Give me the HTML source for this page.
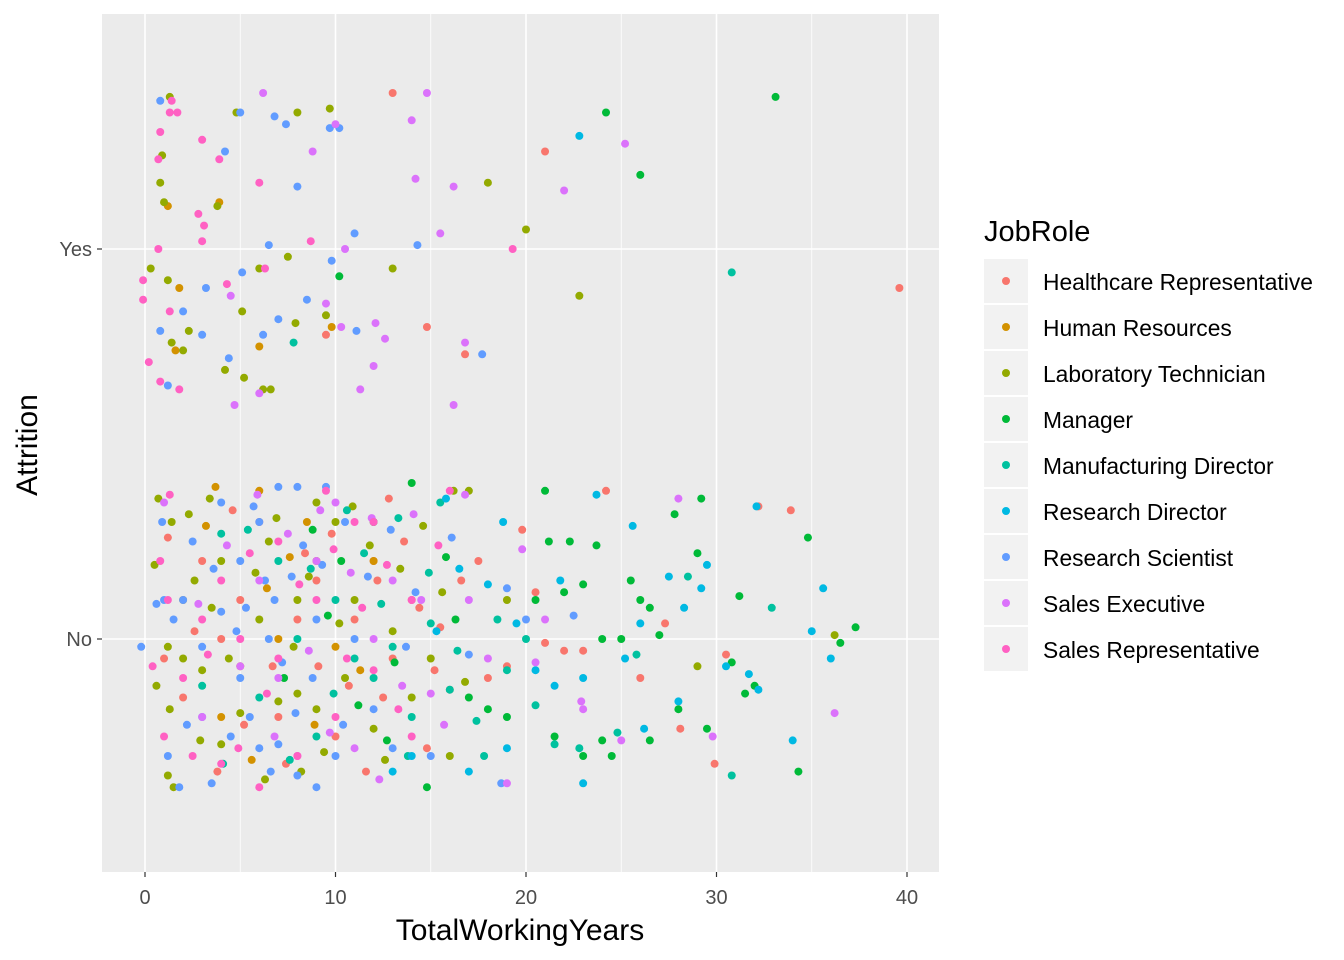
<!DOCTYPE html>
<html><head><meta charset="utf-8"><style>
body{margin:0;background:#fff;}
svg{display:block;font-family:"Liberation Sans",Arial,sans-serif;}
</style></head><body>
<svg id="chart" width="1344" height="960" viewBox="0 0 1344 960" xmlns="http://www.w3.org/2000/svg">
<rect x="102" y="14" width="837" height="858" fill="#EBEBEB"/>
<g id="grid"></g>
<g id="points"></g>
<g id="axes"></g>
<text x="520" y="940" font-size="30" text-anchor="middle" fill="#000">TotalWorkingYears</text>
<text transform="translate(37,445) rotate(-90)" font-size="30" text-anchor="middle" fill="#000">Attrition</text>
<g id="legend"></g>
</svg>
<script>
const roles=["Healthcare Representative","Human Resources","Laboratory Technician","Manager","Manufacturing Director","Research Director","Research Scientist","Sales Executive","Sales Representative"];
const colors=["#F8766D","#D39200","#93AA00","#00BA38","#00C19F","#00B9E3","#619CFF","#DB72FB","#FF61C3"];
const xTicks=[0,10,20,30,40];
const yCats=["No","Yes"];
// points per role: [TotalWorkingYears (jittered), Attrition position (No=1, Yes=2, jittered)]
const healthcare=[[13,2.4],[21,2.25],[14.8,1.8],[16.8,1.73],[39.6,1.9],[9.5,1.78],[24.2,1.38],[32.2,1.34],[33.9,1.33],[19.8,1.28],[17.5,1.2],[20.5,1.12],[14,1.1],[12,1.2],[28.1,0.77],[29.9,0.68],[30.5,0.96],[27.3,1.04],[22,0.97],[21,0.99],[16,0.87],[18,0.9],[14.8,0.72],[10,0.75],[8,1.05],[6,1.3],[4,1.0],[2,0.85],[1,0.95],[3,1.2],[11,1.05],[13,0.95],[9,1.15],[7,0.8],[5,1.1],[15.5,1.03],[19,0.93],[23,0.97],[12.5,0.85],[26,0.9],[3.8,0.66],[5.2,0.78],[6.7,0.93],[8.4,1.22],[9.8,1.27],[10.7,0.88],[12.2,1.15],[13.6,1.25],[14.4,1.08],[15.2,0.92],[16.6,1.15],[2.6,1.02],[1.2,1.26],[7.4,0.68],[11.6,0.66],[12.8,1.36],[9.1,0.93],[4.6,1.33]];
const humanRes=[[1.2,2.11],[1.8,1.9],[3.9,2.12],[9.8,1.8],[6,1.75],[1.6,1.74],[3.7,1.39],[6,1.38],[9,1.2],[8.5,1.3],[5,0.93],[10,0.98],[7,1.0],[2,1.1],[4,0.8],[12,1.2],[6.4,1.13],[8.9,0.78],[5.6,0.69],[11.3,0.92],[3.2,1.29],[7.6,1.21]];
const labTech=[[1.3,2.39],[0.9,2.24],[0.8,2.17],[1,2.12],[4.8,2.35],[8,2.35],[9.7,2.36],[3.8,2.11],[0.3,1.95],[1.2,1.92],[1.4,1.76],[2,1.74],[4.2,1.69],[5.2,1.67],[6.2,1.64],[6.6,1.64],[7.5,1.98],[13,1.95],[18,2.17],[20,2.05],[22.8,1.88],[7.9,1.81],[5.1,1.84],[9.5,1.83],[6,1.95],[2.3,1.79],[0.7,1.36],[1.4,1.3],[2.3,1.32],[0.5,1.19],[4,1.2],[6.5,1.25],[9,1.35],[10,1.3],[16.2,1.38],[17,1.38],[1.2,0.98],[2,0.95],[3,0.92],[0.6,0.88],[1.3,0.82],[1.5,0.62],[1.2,0.65],[2.9,0.74],[4,0.73],[5,0.81],[7,0.84],[8,0.86],[9,0.82],[12,0.77],[14,0.85],[16,0.7],[29,0.93],[36.2,1.01],[6,1.05],[8,1.1],[11,1.1],[13,1.02],[3.5,1.08],[10.5,0.9],[15,0.95],[19,1.1],[5.8,1.17],[6.9,1.31],[7.8,0.98],[8.6,1.16],[9.4,0.71],[10.2,1.04],[11.8,1.24],[12.6,0.69],[13.4,1.18],[14.6,1.29],[4.4,0.95],[2.6,1.15],[6.3,0.64],[8.2,0.66],[10.9,1.34],[15.6,1.12],[16.8,0.89],[3.4,1.36]];
const manager=[[33.1,2.39],[24.2,2.35],[26,2.19],[10.2,1.93],[21,1.38],[29.2,1.36],[34.8,1.26],[21.2,1.25],[22.3,1.25],[23.7,1.24],[25.5,1.15],[29,1.22],[31.2,1.11],[37.3,1.03],[26,1.1],[26.5,1.08],[27,1.01],[20.5,1.1],[22,1.12],[23,1.14],[30.8,0.94],[31.5,0.86],[32,0.88],[28,0.82],[29.5,0.77],[26.5,0.74],[24,0.74],[21.5,0.75],[23,0.7],[24.5,0.7],[34.3,0.66],[36.5,0.99],[19,0.8],[18,0.82],[14.8,0.62],[17,0.85],[25,1.0],[27.8,1.32],[24,1.0],[12,1.3],[10.3,1.2],[14,1.4],[9.6,1.06],[11.2,0.83],[13.1,0.94],[15.8,1.21],[7.3,0.9],[8.8,1.28],[12.7,0.74],[16.3,1.05]];
const mfgDirector=[[30.8,1.94],[7.8,1.76],[13.3,1.31],[28.5,1.16],[30.8,0.65],[32.9,1.08],[22.8,0.72],[21.5,0.73],[20,1.0],[19,0.92],[17.4,0.79],[16,0.87],[15,1.04],[13,0.98],[12,0.9],[10,1.1],[8,1.0],[6,0.85],[4,1.27],[15.5,1.35],[17.8,0.7],[24.8,0.76],[25.8,0.96],[18.5,1.05],[9,0.75],[11,0.95],[14,0.8],[7,1.2],[3,0.88],[20.5,0.83],[5.4,1.28],[7.6,0.69],[8.7,1.18],[9.9,0.86],[11.5,1.22],[12.4,1.09],[13.8,0.7],[14.9,1.17],[16.4,0.97],[10.6,1.33],[4.1,0.68]];
const resDirector=[[22.8,2.29],[23.7,1.37],[25.6,1.29],[32.1,1.34],[35.6,1.13],[30.5,0.93],[32.2,0.87],[31.7,0.91],[35,1.02],[36,0.95],[34,0.74],[26,1.04],[25.2,0.95],[28.3,1.08],[29.2,1.13],[29.5,1.19],[27.5,1.16],[26.2,0.77],[21.5,0.88],[23,0.9],[23,0.63],[20.5,0.92],[19,0.72],[17,0.66],[15.3,1.02],[14,0.7],[13,0.66],[16.5,1.18],[18,1.14],[19.5,1.04],[28,0.84],[15.8,1.36],[18.8,1.3],[21.8,1.15]];
const resScientist=[[0.8,2.38],[5,2.35],[6.8,2.34],[7.4,2.32],[9.7,2.31],[10.2,2.31],[4.2,2.25],[8,2.16],[11,2.04],[14.3,2.01],[3.2,1.9],[5.1,1.94],[6.5,2.01],[9.8,1.97],[8.5,1.87],[0.8,1.79],[3,1.78],[6.2,1.78],[7,1.82],[11.1,1.79],[17.7,1.73],[1.2,1.65],[4.4,1.72],[2,1.84],[-0.2,0.98],[0.6,1.09],[1,1.1],[1.5,1.05],[2,1.1],[3,0.98],[4,1.07],[5,1.2],[6,1.3],[7,1.39],[8,1.39],[9.5,1.39],[7.7,1.16],[6.5,1.0],[5.5,0.8],[6,0.72],[7,0.73],[8,0.65],[9,0.62],[3.5,0.63],[1.8,0.62],[1.2,0.7],[4.5,0.75],[8.8,0.9],[10,0.7],[12,0.82],[13,0.72],[15,0.7],[17,0.96],[19,1.13],[20,1.05],[18.7,0.63],[22.5,1.06],[11,1.0],[10.5,1.3],[4,1.35],[2.5,1.25],[6.8,1.1],[9,1.05],[3,0.8],[5,0.9],[5.7,1.34],[6.3,1.15],[7.2,0.94],[8.3,1.24],[9.3,1.19],[10.4,0.78],[11.7,1.16],[12.9,1.28],[13.7,0.98],[14.2,1.12],[16.1,1.26],[4.8,1.02],[2.2,0.78],[0.9,1.3],[3.6,1.18],[7.9,0.81],[6.6,0.66],[5.3,1.08]];
const salesExec=[[6.2,2.4],[14.8,2.4],[14,2.33],[10,2.32],[25.2,2.27],[8.8,2.25],[14.2,2.18],[16.2,2.16],[22,2.15],[10.5,2.0],[15.5,2.04],[4.5,1.88],[9.5,1.86],[10.3,1.8],[12.1,1.81],[12.6,1.77],[16.8,1.76],[6,1.63],[4.7,1.6],[16.2,1.6],[11.3,1.64],[12,1.7],[16.8,1.37],[28,1.36],[19.8,1.23],[14.5,1.1],[12,1.0],[9,1.2],[10,1.35],[7,0.9],[5,0.93],[3,0.8],[1,1.35],[20.5,0.94],[23,0.82],[22.9,0.84],[29.8,0.75],[36.2,0.81],[19,0.63],[25,0.74],[17,1.1],[13,1.15],[11,0.72],[8,0.7],[6,1.15],[15,0.86],[18,0.95],[21,1.05],[5.9,1.37],[7.5,1.27],[8.6,0.97],[9.7,0.76],[10.8,1.17],[11.9,1.31],[12.3,0.64],[13.5,0.88],[14.1,1.32],[15.7,0.78],[4.3,1.24],[2.8,1.09],[9.2,1.33],[6.8,0.75]];
const salesRep=[[1.4,2.38],[0.8,2.3],[1.3,2.35],[1.7,2.35],[3,2.28],[3.9,2.23],[0.7,2.23],[2.8,2.09],[3.1,2.06],[6,2.17],[0.7,2.0],[-0.1,1.92],[-0.1,1.87],[1.3,1.84],[0.2,1.71],[0.8,1.66],[1.8,1.64],[6.3,1.95],[8.7,2.02],[19.3,2.0],[4.3,1.91],[3,2.02],[1.3,1.37],[0.8,1.2],[1.2,1.1],[3,1.05],[5,1.0],[7,0.95],[9,1.1],[11,1.3],[12,1.3],[14,1.1],[16,1.38],[2,0.9],[0.4,0.93],[2.5,0.7],[1,0.75],[4,0.68],[6,0.62],[8,0.7],[10,0.8],[12,0.92],[14,0.75],[9.5,1.38],[7,1.25],[4,1.15],[5.5,1.22],[6.4,0.86],[8.1,1.14],[9.9,1.23],[10.6,0.95],[11.4,1.08],[12.7,1.19],[13.3,0.82],[15.4,1.24],[3.3,0.96],[4.9,0.72]];
const series=[healthcare,humanRes,labTech,manager,mfgDirector,resDirector,resScientist,salesExec,salesRep];

const NS="http://www.w3.org/2000/svg";
const P={l:102,r:939,t:14,b:872};
const xScale=v=>145+(v-0)*(907-145)/40;
const yScale=v=>639-(v-1)*390;
function mk(tag,attrs,parent){const e=document.createElementNS(NS,tag);for(const k in attrs)e.setAttribute(k,attrs[k]);parent.appendChild(e);return e;}
const grid=document.getElementById('grid'),axes=document.getElementById('axes');
for(let v=-5;v<=45;v+=10){const x=xScale(v);if(x>P.l&&x<P.r){const l=mk('line',{x1:x,x2:x,y1:P.t,y2:P.b,stroke:'#fff','stroke-width':0.8},grid);}}
xTicks.forEach(v=>{const x=xScale(v);
 const l=mk('line',{x1:x,x2:x,y1:P.t,y2:P.b,stroke:'#fff','stroke-width':1.6},grid);
 const t=mk('line',{x1:x,x2:x,y1:P.b,y2:P.b+5,stroke:'#333','stroke-width':1.2},axes);
 const tx=mk('text',{x:x,y:P.b+32,'font-size':20,'text-anchor':'middle',fill:'#4D4D4D'},axes);tx.textContent=v;});
yCats.forEach((c,i)=>{const y=yScale(i+1);
 const l=mk('line',{x1:P.l,x2:P.r,y1:y,y2:y,stroke:'#fff','stroke-width':1.6},grid);
 const t=mk('line',{x1:P.l-5,x2:P.l,y1:y,y2:y,stroke:'#333','stroke-width':1.2},axes);
 const tx=mk('text',{x:P.l-10,y:y+7,'font-size':20,'text-anchor':'end',fill:'#4D4D4D'},axes);tx.textContent=c;});
const pts=document.getElementById('points');
series.forEach((arr,si)=>arr.forEach(d=>{const c=mk('circle',{cx:xScale(d[0]),cy:yScale(d[1]),r:4,fill:colors[si]},pts);
 
 }));
const lg=document.getElementById('legend');
const lt=mk('text',{x:984,y:241,'font-size':29,fill:'#000'},lg);lt.textContent='JobRole';


roles.forEach((r,i)=>{const y=259+i*46;
 const g=mk('g',{},lg);
 
 
 mk('rect',{x:984,y:y,width:44,height:44,fill:'#F2F2F2'},g);
 mk('circle',{cx:1006,cy:y+22,r:4,fill:colors[i]},g);
 const t=mk('text',{x:1043,y:y+31,'font-size':22.8,fill:'#000'},g);t.textContent=r;});
</script>
</body></html>
